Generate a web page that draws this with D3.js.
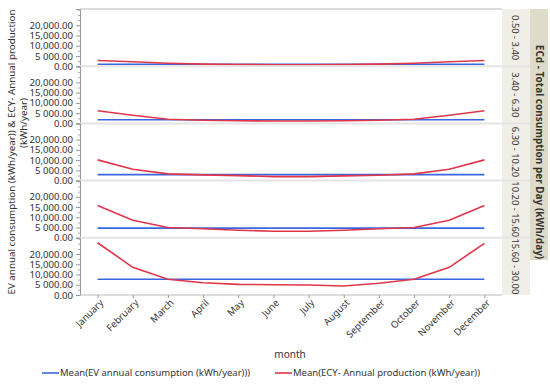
<!DOCTYPE html>
<html><head><meta charset="utf-8">
<script src="https://cdn.jsdelivr.net/npm/d3@7"></script>
<style>
body{margin:0;background:#fff;}
text{font-family:"Noto Sans",sans-serif;fill:#333;}
</style></head>
<body><svg id="c" width="550" height="385"></svg>
<script>
const months = ["January","February","March","April","May","June","July","August","September","October","November","December"];
const groups = ["0.50 - 3.40","3.40 - 6.30","6.30 - 10.20","10.20 - 15.60","15.60 - 30.00"];
const evConsumption = [980, 1800, 2930, 4700, 7650];
const ecy_0 = [2780, 2150, 1460, 1000, 800, 700, 700, 800, 1000, 1460, 2150, 2780];
const ecy_1 = [6200, 3950, 2000, 1550, 1300, 1200, 1200, 1300, 1550, 2000, 3950, 6200];
const ecy_2 = [10100, 5560, 3270, 2780, 2440, 1950, 1950, 2300, 2630, 3270, 5560, 10100];
const ecy_3 = [15750, 8600, 5000, 4400, 3700, 3200, 3200, 3700, 4400, 5000, 8600, 15750];
const ecy_4 = [25500, 13500, 7650, 6000, 5200, 5000, 4900, 4400, 5700, 7650, 13500, 25200];
const ecySeries = [ecy_0, ecy_1, ecy_2, ecy_3, ecy_4];
const yTicks = [0, 5000, 10000, 15000, 20000];
const yTickLabels = ["0.00", "5 000.00", "10,000.00", "15,000.00", "20,000.00"];
const yMinor = [2500, 7500, 12500, 17500, 22500, 25000, 27500];
const legendLabels = ["Mean(EV annual consumption (kWh/year)))", "Mean(ECY- Annual production (kWh/year))"];

const BLUE = "#3a66e0", RED = "#e0364a";
const svg = d3.select("#c");
const L = 80, R = 502, T = 9, B = 295;
const nP = groups.length, pH = (B - T) / nP;
const x = d3.scalePoint().domain(months).range([L, R]).padding(0.5);

// strips
svg.append("rect").attr("x", R).attr("y", T).attr("width", 28).attr("height", B - T).attr("fill", "#efeee7");
svg.append("rect").attr("x", 530).attr("y", T).attr("width", 18).attr("height", 251).attr("fill", "#dedbcb");
svg.append("text").attr("transform", `translate(539,${(T + B) / 2}) rotate(90)`)
  .attr("text-anchor", "middle").attr("dy", "0.35em").style("font-size", "10px").style("font-weight", "bold")
  .text("ECd - Total consumption per Day (kWh/day)");

groups.forEach((g, i) => {
  const top = T + i * pH, bot = top + pH;
  const y = d3.scaleLinear().domain([0, 27900]).range([bot, top]);
  const gp = svg.append("g");
  if (i > 0) gp.append("line").attr("x1", L).attr("x2", R + 28).attr("y1", top).attr("y2", top)
    .attr("stroke", "#e4e4e4").attr("stroke-width", 2);
  const ax = d3.axisLeft(y).tickValues(yTicks).tickFormat((d, k) => yTickLabels[k]).tickSize(4).tickPadding(3);
  const ag = gp.append("g").attr("transform", `translate(${L},0)`).call(ax);
  ag.select(".domain").attr("stroke", "#999");
  ag.selectAll(".tick line").attr("stroke", "#999");
  ag.selectAll(".tick text").style("font-size", "9.6px").style("fill", "#333").style("font-family", "Noto Sans");
  const mg = gp.append("g").attr("transform", `translate(${L},0)`)
    .call(d3.axisLeft(y).tickValues(yMinor).tickFormat("").tickSize(2));
  mg.select(".domain").remove();
  mg.selectAll(".tick line").attr("stroke", "#aaa");
  gp.append("path").datum(months.map(m => ({m, v: evConsumption[i]})))
    .attr("d", d3.line().x(d => x(d.m)).y(d => y(d.v)))
    .attr("fill", "none").attr("stroke", BLUE).attr("stroke-width", 1.6);
  gp.append("path").datum(months.map((m, k) => ({m, v: ecySeries[i][k]})))
    .attr("d", d3.line().x(d => x(d.m)).y(d => y(d.v)))
    .attr("fill", "none").attr("stroke", RED).attr("stroke-width", 1.6);
  svg.append("text").attr("transform", `translate(515,${(top + bot) / 2}) rotate(90)`)
    .attr("text-anchor", "middle").attr("dy", "0.35em").style("font-size", "9.4px").text(g);
});

svg.append("line").attr("x1", L).attr("x2", R).attr("y1", T).attr("y2", T).attr("stroke", "#bbb");
svg.append("line").attr("x1", L).attr("x2", R).attr("y1", B).attr("y2", B).attr("stroke", "#bbb");

const xg = svg.append("g").attr("transform", `translate(0,${B})`)
  .call(d3.axisBottom(x).tickSize(3).tickFormat(""));
xg.select(".domain").remove();
xg.selectAll(".tick line").attr("stroke", "#999");
svg.selectAll(".mlab").data(months).enter().append("text").attr("class", "mlab")
  .attr("transform", d => `translate(${x(d) + 4},${B + 6}) rotate(-45)`)
  .attr("text-anchor", "end").attr("dy", "0.35em").style("font-size", "9.6px").text(d => d);

svg.append("text").attr("x", 290).attr("y", 358).attr("text-anchor", "middle").style("font-size", "10px").text("month");

svg.append("text").attr("transform", `translate(12,152) rotate(-90)`)
  .attr("text-anchor", "middle").attr("dy", "0.35em").style("font-size", "9.8px")
  .text("EV annual consumption (kWh/year)) & ECY- Annual production");
svg.append("text").attr("transform", `translate(24,123) rotate(-90)`)
  .attr("text-anchor", "middle").attr("dy", "0.35em").style("font-size", "9.8px")
  .text("(kWh/year)");

const lg = [[42, BLUE], [275, RED]];
lg.forEach(([lx, c], k) => {
  svg.append("line").attr("x1", lx).attr("x2", lx + 17).attr("y1", 373).attr("y2", 373).attr("stroke", c).attr("stroke-width", 1.6);
  svg.append("text").attr("x", lx + 18).attr("y", 373).attr("dy", "0.35em").style("font-size", "9.5px").text(legendLabels[k]);
});
</script></body></html>
